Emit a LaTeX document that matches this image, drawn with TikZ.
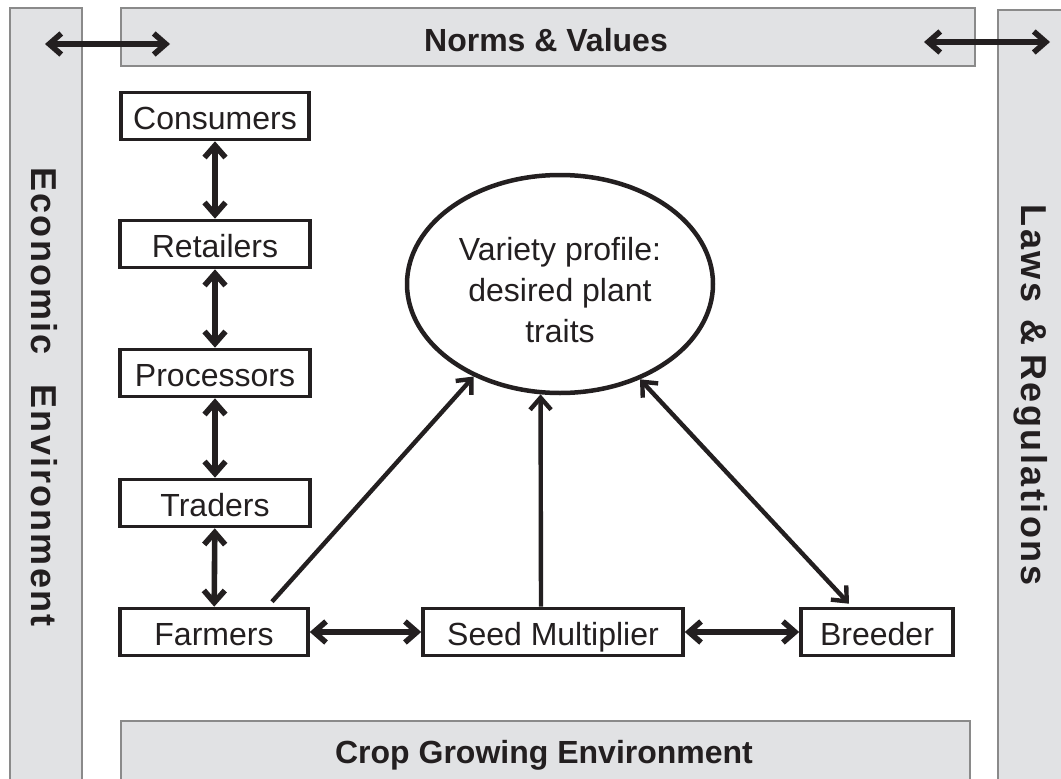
\documentclass[tikz,border=0pt]{standalone}
\usepackage{fontspec}
\setmainfont{Liberation Sans}
\newfontfamily\sidefont[LetterSpace=6]{Liberation Sans}
\newfontfamily\lawsfont[LetterSpace=7]{Liberation Sans}
\usetikzlibrary{arrows.meta,shapes.geometric}
\definecolor{barfill}{HTML}{E1E2E4}
\definecolor{barline}{HTML}{8A8A8A}
\definecolor{ink}{HTML}{231F20}
\begin{document}
\begin{tikzpicture}[x=1pt,y=-1pt,
  bar/.style={fill=barfill,draw=barline,line width=1.8pt},
  barlabel/.style={text=ink,font=\fontsize{32}{38}\selectfont\bfseries,inner sep=0pt},
  sidelabel/.style={text=ink,inner sep=0pt,rotate=-90,anchor=base},
  actor/.style={draw=ink,line width=3.6pt,fill=white,minimum height=47pt,inner sep=0pt,
    text height=26pt,text depth=0pt,font=\fontsize{32}{38}\selectfont,text=ink},
  tipb/.tip={Straight Barb[length=12pt,width=21pt]},
  link/.style={draw=ink,line width=5.6pt,tipb-tipb},
  elink/.style={draw=ink,line width=4.4pt},
]
\useasboundingbox (0,0) rectangle (1061,779);
\clip (0,0) rectangle (1061,779);
\fill[white] (0,0) rectangle (1061,779);
% environment bars
\path[bar] (10,8) rectangle (82,800);
\path[bar] (998,10) rectangle (1080,800);
\path[bar] (121,8) rectangle (975,66);
\path[bar] (121,721) rectangle (970,800);
\node[barlabel] (norms) at (546,40) {Norms \& Values};
\node[barlabel,anchor=base] (crop) at (544,763) {Crop Growing Environment};
\node[sidelabel,font=\fontsize{36}{40}\selectfont\sidefont\bfseries] (econ) at (31,397)
  {Economic\hspace{30pt}Environment};
\node[sidelabel,font=\fontsize{36}{40}\selectfont\lawsfont\bfseries] (laws) at (1021,395)
  {Laws\hspace{17pt}\&\hspace{9pt}Regulations};
% corner arrows
\coordinate (tla) at (45,44);
\coordinate (tlb) at (170,44);
\coordinate (tra) at (924,42);
\coordinate (trb) at (1050,42);
\draw[link] (tla) -- (tlb);
\draw[link] (tra) -- (trb);
% actors
\node[actor,minimum width=188pt] (cons) at (215,116) {Consumers};
\node[actor,minimum width=190pt] (ret) at (215,244) {Retailers};
\node[actor,minimum width=190pt] (proc) at (215,373) {Processors};
\node[actor,minimum width=190pt] (trad) at (215,503) {Traders};
\node[actor,minimum width=188pt] (farm) at (214,632) {Farmers};
\node[actor,minimum width=260pt] (seed) at (553,632) {Seed Multiplier};
\node[actor,minimum width=152pt] (breed) at (877,632) {Breeder};
% variety profile
\node[ellipse,draw=ink,line width=4.5pt,minimum width=306pt,minimum height=218pt,inner sep=0pt,
  align=center,font=\fontsize{32}{41}\selectfont,text=ink] (ell) at (560,284)
  {\rule{0pt}{35pt}Variety profile:\\desired plant\\traits};
% chain links
\draw[link] (cons) -- (ret);
\draw[link] (ret) -- (proc);
\draw[link] (proc) -- (trad);
\draw[link] (trad) -- (farm);
\draw[link] (farm) -- (seed);
\draw[link] (seed) -- (breed);
% links to the variety profile
\draw[elink,-tipb] ([xshift=58pt,yshift=5pt]farm.north) -- (ell.227);
\draw[elink,-tipb] ([xshift=-12pt]seed.north) -- (ell.260);
\draw[elink,tipb-tipb] (ell.310) -- ([xshift=-28pt,yshift=3pt]breed.north);
\end{tikzpicture}
\end{document}
